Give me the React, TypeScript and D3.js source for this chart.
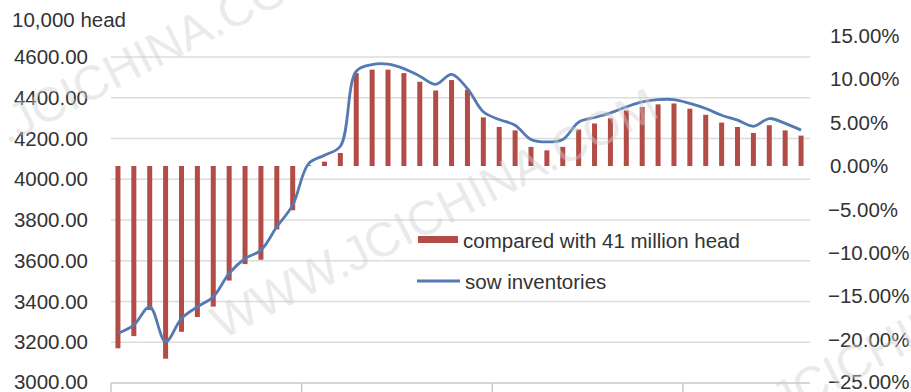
import React from "react";
import * as d3 from "d3";

// Monthly series, 44 periods
const periods: number[] = d3.range(44);

// Gap vs. the 41 million head baseline (%)
const gapPct: number[] = [
  -21.0, -19.6, -16.6, -22.2, -19.1, -17.4, -16.2, -13.2, -11.3, -10.8, -7.3, -5.1,
  0.1, 0.5, 1.5, 10.7, 11.1, 11.1, 10.7, 9.7, 8.7, 9.9, 8.8, 5.6,
  4.5, 4.1, 2.2, 1.8, 2.2, 4.2, 4.9, 5.5, 6.4, 6.8, 7.1, 7.2,
  6.6, 5.9, 5.0, 4.5, 3.8, 4.7, 4.1, 3.5,
];

// Sow inventories (10,000 head)
const sowInventory: number[] = [
  3244, 3284, 3374, 3203, 3317, 3374, 3423, 3538, 3611, 3652, 3767, 3873,
  4077, 4118, 4162, 4530, 4563, 4565, 4543, 4506, 4466, 4515, 4445, 4331,
  4293, 4265, 4195, 4183, 4195, 4280, 4303, 4326, 4355, 4380, 4391, 4391,
  4372, 4347, 4314, 4290, 4260, 4298, 4274, 4241,
];

const leftTicks: number[] = [3000, 3200, 3400, 3600, 3800, 4000, 4200, 4400, 4600];
const rightTicks: number[] = [-25, -20, -15, -10, -5, 0, 5, 10, 15];
const yearBoundaries: number[] = [0, 12, 24, 36];

const leftUnit = "10,000 head";
const legendBar = "compared with 41 million head";
const legendLine = "sow inventories";
const watermark = "WWW.JCICHINA.COM";

const W = 911;
const H = 392;
const FONT = "'Liberation Sans', Arial, sans-serif";
const TEXT = "#333333";
const BAR = "#b34b46";
const LINE = "#5479b3";

export default function App() {
  const x = d3.scaleBand<number>().domain(periods).range([111, 810]).paddingInner(0);
  const yLeft = d3.scaleLinear().domain([3000, 4600]).range([383, 57]);
  const yRight = d3.scaleLinear().domain([-25, 15]).range([383, 35.8]);
  const cx = (i: number) => (x(i) as number) + x.bandwidth() / 2 - 1;
  const barW = 5;

  const line = d3
    .line<number>()
    .x((_, i) => cx(i))
    .y((d) => yLeft(d))
    .curve(d3.curveCatmullRom.alpha(0.5));

  const fmtL = d3.format(".2f");
  const fmtR = (v: number) => d3.format(".2f")(v) + "%";

  const wmStyle = {
    fontFamily: FONT,
    fontSize: 48,
    fill: "#cfcfcf",
    fillOpacity: 0.45,
  } as const;

  return (
    <svg
      width={W}
      height={H}
      style={{ position: "absolute", left: 0, top: 0, background: "#fff" }}
      fontFamily={FONT}
    >
      <rect width={W} height={H} fill="#fff" />

      {/* gridlines */}
      {leftTicks.slice(1).map((t) => (
        <line key={t} x1={111} x2={810} y1={yLeft(t)} y2={yLeft(t)} stroke="#dcdcdc" strokeWidth={1.5} />
      ))}
      {/* category axis */}
      <line x1={111} x2={810} y1={383} y2={383} stroke="#c8c8c8" strokeWidth={1.5} />
      {yearBoundaries.map((b) => (
        <line key={b} x1={x(b) as number} x2={x(b) as number} y1={383} y2={392} stroke="#c8c8c8" strokeWidth={1.5} />
      ))}

      {/* bars */}
      {gapPct.map((v, i) => (
        <rect
          key={i}
          x={cx(i) - barW / 2}
          width={barW}
          y={Math.min(yRight(v), yRight(0))}
          height={Math.abs(yRight(v) - yRight(0))}
          fill={BAR}
        />
      ))}

      {/* sow inventory line */}
      <path d={line(sowInventory) || ""} fill="none" stroke={LINE} strokeWidth={2.8} strokeLinejoin="round" />

      {/* left axis */}
      <text x={12} y={20} dy="0.35em" fontSize={20.5} fill={TEXT}>
        {leftUnit}
      </text>
      {leftTicks.map((t) => (
        <text key={t} x={88} y={Math.min(yLeft(t), 382)} dy="0.35em" textAnchor="end" fontSize={20.5} fill={TEXT}>
          {fmtL(t)}
        </text>
      ))}

      {/* right axis */}
      {rightTicks.map((t) => (
        <text key={t} x={t < 0 ? 828 : 830} y={Math.min(yRight(t), 382)} dy="0.35em" fontSize={20.5} fill={TEXT}>
          {fmtR(t)}
        </text>
      ))}

      {/* legend */}
      <rect x={418} y={236} width={40} height={7} fill={BAR} />
      <text x={463} y={240.5} dy="0.35em" fontSize={20.5} fill={TEXT}>
        {legendBar}
      </text>
      <line x1={417} x2={460} y1={281} y2={281} stroke={LINE} strokeWidth={2.8} />
      <text x={465} y={281.5} dy="0.35em" fontSize={20.5} fill={TEXT}>
        {legendLine}
      </text>

      {/* watermarks */}
      <text transform="translate(-112,205) rotate(-27)" style={wmStyle}>{watermark}</text>
      <text transform="translate(222,340) rotate(-27)" style={wmStyle}>{watermark}</text>
      <text transform="translate(651,484) rotate(-27)" style={wmStyle}>{watermark}</text>
    </svg>
  );
}
